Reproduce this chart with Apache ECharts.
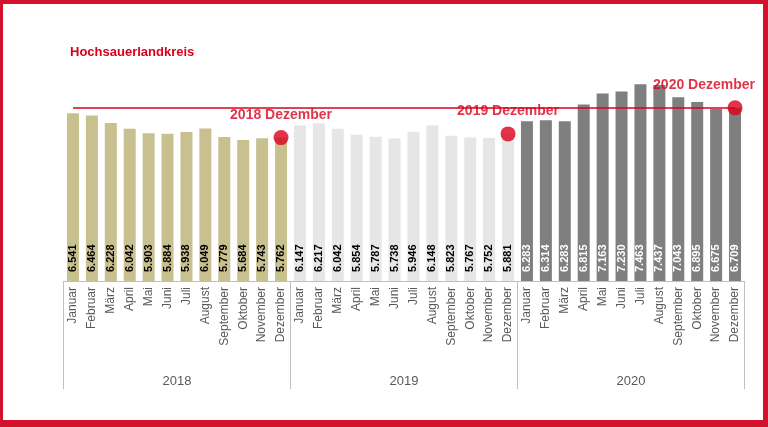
<!DOCTYPE html>
<html>
<head>
<meta charset="utf-8">
<script src="https://cdn.jsdelivr.net/npm/echarts@6/dist/echarts.min.js"></script>
<style>
html,body{margin:0;padding:0;background:#fff;}
#wrap{position:relative;width:768px;height:427px;overflow:hidden;}
#chart{position:absolute;left:0;top:0;width:768px;height:427px;}
#frame{position:absolute;left:0;top:0;width:768px;height:427px;box-sizing:border-box;
  border-style:solid;border-color:#d3112c;border-width:4px 5px 7px 3px;pointer-events:none;}
</style>
</head>
<body>
<div id="wrap"><div id="chart"></div><div id="frame"></div></div>
<script>
const title = 'Hochsauerlandkreis';
const months = ['Januar','Februar','März','April','Mai','Juni','Juli','August','September','Oktober','November','Dezember'];
const years = ['2018','2019','2020'];
const values2018 = [6541,6464,6228,6042,5903,5884,5938,6049,5779,5684,5743,5762];
const values2019 = [6147,6217,6042,5854,5787,5738,5946,6148,5823,5767,5752,5881];
const values2020 = [6283,6314,6283,6815,7163,7230,7463,7437,7043,6895,6675,6709];
const markerLabels = ['2018 Dezember','2019 Dezember','2020 Dezember'];

const RED = '#d9001b';
const FONT = '"Liberation Sans", Arial, sans-serif';
const allValues = [values2018, values2019, values2020];
const categories = [];
years.forEach(() => months.forEach(m => categories.push(m)));

function fmt(v){ return String(v).replace(/\B(?=(\d{3})+(?!\d))/g, '.'); }

const barColors = ['#c9c08f','#e6e6e6','#7f7f7f'];
const labelColors = ['#000','#000','#fff'];

const barSeries = allValues.map((vals, yi) => {
  const data = categories.map(() => '-');
  vals.forEach((v, i) => { data[yi*12 + i] = v; });
  return {
    type: 'bar', name: years[yi], data: data, xAxisIndex: 0,
    barWidth: 12, barGap: '-100%',
    itemStyle: { color: barColors[yi] },
    label: {
      show: true, position: 'insideBottom', rotate: 90, align: 'left', verticalAlign: 'middle',
      distance: 9, fontFamily: FONT, fontWeight: 'bold', fontSize: 11, color: labelColors[yi],
      formatter: p => fmt(p.value)
    },
    z: 2
  };
});

const lastIdx = categories.length - 1;
const refValue = values2020[11];

const dotOffsets = [[0,0],[0,0],[-31,0]];
const dotData = allValues.map((vals, yi) => ({
  value: [yi*12 + 11, vals[11]],
  label: { offset: dotOffsets[yi] }
}));

const option = {
  animation: false,
  title: {
    text: title, left: 70, top: 46, padding: 0,
    textStyle: { color: RED, fontFamily: FONT, fontWeight: 'bold', fontSize: 13 }
  },
  grid: { left: 63.5, right: 23.5, top: 61, bottom: 146 },
  xAxis: [
    {
      type: 'category', data: categories, position: 'bottom',
      axisLine: { show: true, lineStyle: { color: '#bfbfbf', width: 1 } },
      axisTick: { show: false },
      axisLabel: { rotate: 90, margin: 6, interval: 0, fontFamily: FONT, fontSize: 12, color: '#595959' }
    },
    {
      type: 'category', data: years, position: 'bottom', offset: 0,
      axisLine: { show: false },
      axisTick: { show: true, length: 108, lineStyle: { color: '#bfbfbf', width: 1 } },
      axisLabel: { margin: 94, fontFamily: FONT, fontSize: 13, color: '#595959' }
    }
  ],
  yAxis: { type: 'value', min: 1200, max: 8200, show: false, splitLine: { show: false } },
  series: barSeries.concat([
    {
      type: 'scatter', xAxisIndex: 0, data: dotData,
      symbol: 'circle', symbolSize: 15,
      itemStyle: { color: RED },
      label: {
        show: true, position: 'top', distance: 8,
        formatter: p => markerLabels[p.dataIndex],
        fontFamily: FONT, fontWeight: 'bold', fontSize: 14, color: RED
      },
      markLine: {
        silent: true, symbol: 'none', label: { show: false },
        lineStyle: { color: RED, width: 1.5, type: 'solid' },
        data: [[{ coord: [0, refValue] }, { coord: [lastIdx, refValue] }]]
      },
      z: 5
    }
  ])
};

const chart = echarts.init(document.getElementById('chart'), null, { renderer: 'canvas' });
chart.setOption(option);
</script>
</body>
</html>
